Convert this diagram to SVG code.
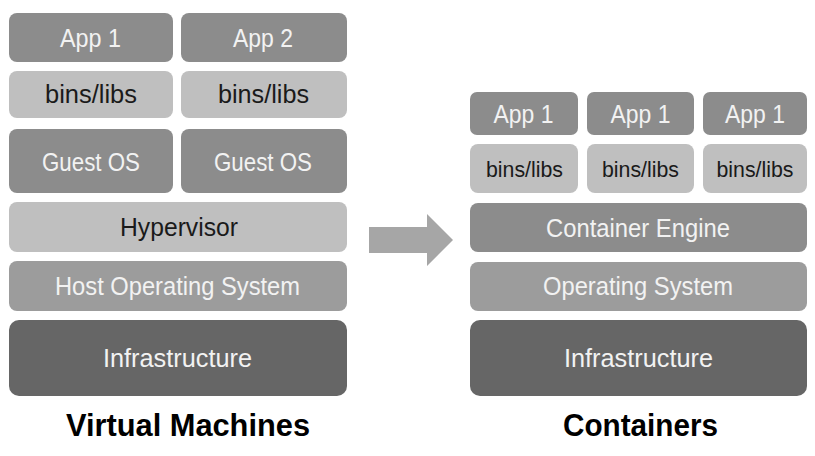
<svg xmlns="http://www.w3.org/2000/svg" width="815" height="456" viewBox="0 0 815 456">
<style>
text{font-family:"Liberation Sans",Arial,sans-serif;text-anchor:middle}
.lbl{font-size:25px;fill:#f2f2f2}
.dk{font-size:25px;fill:#1a1a1a}
.sm{font-size:22px;fill:#1a1a1a}
.ttl{font-size:31px;font-weight:bold;fill:#000}
.app{fill:#8c8c8c}
.bin{fill:#bfbfbf}
.host{fill:#9c9c9c}
.infra{fill:#666666}
</style>
<rect width="815" height="456" fill="#ffffff"/>
<g id="vm">
<g id="vm-app1"><rect class="app" x="9" y="13" width="164" height="49" rx="8"/><text class="lbl" x="90.5" y="47" textLength="61" lengthAdjust="spacingAndGlyphs">App 1</text></g>
<g id="vm-app2"><rect class="app" x="181" y="13" width="166" height="49" rx="8"/><text class="lbl" x="263" y="47" textLength="60" lengthAdjust="spacingAndGlyphs">App 2</text></g>
<g id="vm-bins1"><rect class="bin" x="9" y="71" width="164" height="47" rx="8"/><text class="dk" x="91" y="103" textLength="92" lengthAdjust="spacingAndGlyphs">bins/libs</text></g>
<g id="vm-bins2"><rect class="bin" x="181" y="71" width="166" height="47" rx="8"/><text class="dk" x="263.5" y="103" textLength="91" lengthAdjust="spacingAndGlyphs">bins/libs</text></g>
<g id="vm-guest1"><rect class="app" x="9" y="129" width="164" height="64" rx="8"/><text class="lbl" x="91" y="171" textLength="98" lengthAdjust="spacingAndGlyphs">Guest OS</text></g>
<g id="vm-guest2"><rect class="app" x="181" y="129" width="166" height="64" rx="8"/><text class="lbl" x="263" y="171" textLength="98" lengthAdjust="spacingAndGlyphs">Guest OS</text></g>
<g id="vm-hypervisor"><rect class="bin" x="9" y="202" width="338" height="50" rx="8"/><text class="dk" x="179" y="236" textLength="118" lengthAdjust="spacingAndGlyphs">Hypervisor</text></g>
<g id="vm-hostos"><rect class="host" x="9" y="261" width="338" height="50" rx="8"/><text class="lbl" x="177.5" y="295" textLength="245" lengthAdjust="spacingAndGlyphs">Host Operating System</text></g>
<g id="vm-infra"><rect class="infra" x="9" y="320" width="338" height="76" rx="10"/><text class="lbl" x="177.5" y="367" textLength="149" lengthAdjust="spacingAndGlyphs">Infrastructure</text></g>
<text class="ttl" x="188" y="436" textLength="244" lengthAdjust="spacingAndGlyphs">Virtual Machines</text>
</g>
<g id="connectors">
<polygon points="369,227 427,227 427,214 453,240 427,266 427,253 369,253" fill="#a6a6a6"/>
</g>
<g id="ct">
<g id="ct-app1"><rect class="app" x="470" y="92" width="108" height="43" rx="7"/><text class="lbl" x="523.5" y="123" textLength="60" lengthAdjust="spacingAndGlyphs">App 1</text></g>
<g id="ct-app2"><rect class="app" x="587" y="92" width="107" height="43" rx="7"/><text class="lbl" x="640.5" y="123" textLength="60" lengthAdjust="spacingAndGlyphs">App 1</text></g>
<g id="ct-app3"><rect class="app" x="703" y="92" width="104" height="43" rx="7"/><text class="lbl" x="755" y="123" textLength="60" lengthAdjust="spacingAndGlyphs">App 1</text></g>
<g id="ct-bins1"><rect class="bin" x="470" y="144" width="108" height="49" rx="8"/><text class="sm" x="524.5" y="177" textLength="77" lengthAdjust="spacingAndGlyphs">bins/libs</text></g>
<g id="ct-bins2"><rect class="bin" x="587" y="144" width="107" height="49" rx="8"/><text class="sm" x="640.5" y="177" textLength="77" lengthAdjust="spacingAndGlyphs">bins/libs</text></g>
<g id="ct-bins3"><rect class="bin" x="703" y="144" width="104" height="49" rx="8"/><text class="sm" x="755" y="177" textLength="77" lengthAdjust="spacingAndGlyphs">bins/libs</text></g>
<g id="ct-engine"><rect class="app" x="470" y="203" width="337" height="49" rx="8"/><text class="lbl" x="638" y="237" textLength="184" lengthAdjust="spacingAndGlyphs">Container Engine</text></g>
<g id="ct-os"><rect class="host" x="470" y="262" width="337" height="49" rx="8"/><text class="lbl" x="638" y="295" textLength="190" lengthAdjust="spacingAndGlyphs">Operating System</text></g>
<g id="ct-infra"><rect class="infra" x="470" y="320" width="337" height="76" rx="10"/><text class="lbl" x="638.5" y="367" textLength="149" lengthAdjust="spacingAndGlyphs">Infrastructure</text></g>
<text class="ttl" x="640.5" y="436" textLength="155" lengthAdjust="spacingAndGlyphs">Containers</text>
</g>
</svg>
